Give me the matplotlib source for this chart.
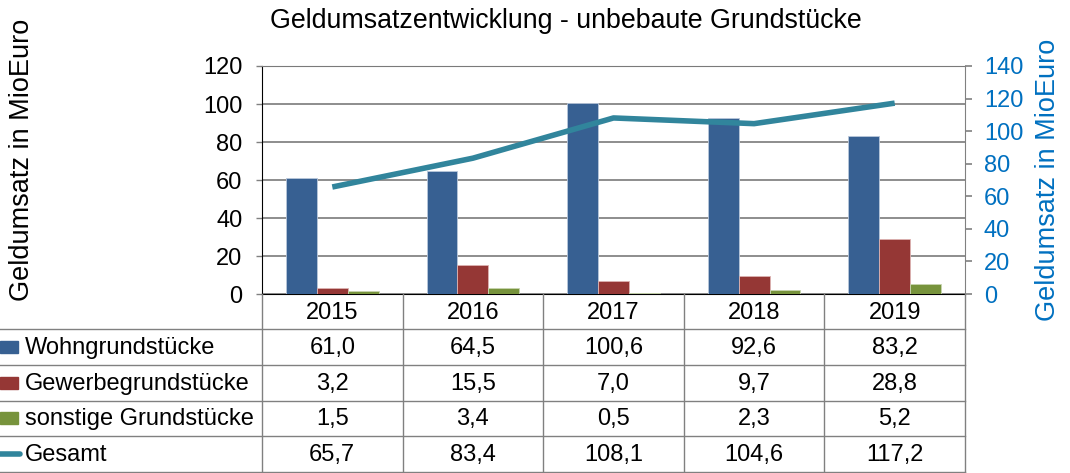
import matplotlib
matplotlib.use("Agg")
import matplotlib.pyplot as plt
import matplotlib.transforms as mtransforms
import numpy as np

plt.rcParams['font.family'] = ['Liberation Sans', 'DejaVu Sans']

years = ["2015", "2016", "2017", "2018", "2019"]
wohn = [61.0, 64.5, 100.6, 92.6, 83.2]
gewerbe = [3.2, 15.5, 7.0, 9.7, 28.8]
sonstige = [1.5, 3.4, 0.5, 2.3, 5.2]
gesamt = [65.7, 83.4, 108.1, 104.6, 117.2]
series_names = ["Wohngrundstücke", "Gewerbegrundstücke", "sonstige Grundstücke", "Gesamt"]

c_blue = "#376092"
c_red = "#953735"
c_green = "#77933C"
c_line = "#31859C"
c_axis2 = "#0070C0"

W, H = 1070, 473
fig = plt.figure(figsize=(W / 100, H / 100), dpi=100)

def fx(px):
    return px / W

def fy(py):
    return 1 - py / H

ax = fig.add_axes([fx(262), fy(294), fx(965) - fx(262), fy(66) - fy(294)])
ax2 = ax.twinx()

x = np.arange(len(years))
bw = 0.22
ax.bar(x - bw, wohn, bw, color=c_blue, edgecolor="#B9C7DA", linewidth=0.6, zorder=3)
ax.bar(x, gewerbe, bw, color=c_red, edgecolor="#DDB3B2", linewidth=0.6, zorder=3)
ax.bar(x + bw, sonstige, bw, color=c_green, edgecolor="#C8D5B0", linewidth=0.6, zorder=3)
ax2.plot(x, gesamt, color=c_line, lw=4, solid_capstyle="butt", zorder=4)

ax.set_xlim(-0.5, len(years) - 0.5)
ax.set_ylim(0, 120)
ax.set_yticks(np.arange(0, 121, 20))
ax2.set_ylim(0, 140)
ax2.set_yticks(np.arange(0, 141, 20))
ax.set_xticks([])
ax.grid(axis="y", color="#7A7A7A", lw=1.2, zorder=0)
ax.set_axisbelow(True)

ax.spines["top"].set_color("#7A7A7A")
ax.spines["left"].set_color("black")
ax.spines["bottom"].set_color("black")
ax.spines["right"].set_visible(False)
ax2.spines["left"].set_visible(False)
ax2.spines["bottom"].set_visible(False)
ax2.spines["top"].set_visible(False)
ax2.spines["right"].set_color("#808080")

ax.tick_params(axis="y", labelsize=17, labelcolor="black", color="#808080", length=4, width=1, direction="out", pad=10)
ax2.tick_params(axis="y", labelsize=17, labelcolor=c_axis2, color="#808080", length=5, width=1.2, pad=8.5)

fig.text(fx(22), fy(160), "Geldumsatz in MioEuro", rotation=90, ha="center", va="center", fontsize=19.5, color="black")
fig.text(fx(1048), fy(180), "Geldumsatz in MioEuro", rotation=90, ha="center", va="center", fontsize=19.5, color=c_axis2)
fig.text(fx(566), fy(21), "Geldumsatzentwicklung - unbebaute Grundstücke", ha="center", va="center", fontsize=19.3, color="black")

# Data table
rows_px = [294, 329, 365, 400.5, 436, 471.5]
trans = mtransforms.blended_transform_factory(ax.transData, fig.transFigure)
fig_line_kw = dict(color="#808080", lw=1.0, clip_on=False)

for ypx in rows_px[1:]:
    fig.add_artist(plt.Line2D([0, fx(965)], [fy(ypx), fy(ypx)], transform=fig.transFigure, **fig_line_kw))
for b in np.arange(-0.5, len(years) + 0.5, 1.0):
    fig.add_artist(plt.Line2D([b, b], [fy(rows_px[0]), fy(rows_px[-1])], transform=trans, **fig_line_kw))

for i, yr in enumerate(years):
    fig.text(x[i], fy((rows_px[0] + rows_px[1]) / 2 + 1), yr, transform=trans, ha="center", va="center", fontsize=17)

data_rows = [wohn, gewerbe, sonstige, gesamt]
key_colors = [c_blue, c_red, c_green]
for r, (name, vals) in enumerate(zip(series_names, data_rows)):
    ymid = (rows_px[r + 1] + rows_px[r + 2]) / 2
    for i, v in enumerate(vals):
        fig.text(x[i], fy(ymid + 1), f"{v:.1f}".replace(".", ","), transform=trans, ha="center", va="center", fontsize=17)
    fig.text(fx(25), fy(ymid + 1), name, ha="left", va="center", fontsize=17)
    if r < 3:
        fig.add_artist(plt.Rectangle((fx(0), fy(ymid + 6)), fx(18), fy(ymid - 6) - fy(ymid + 6),
                                     transform=fig.transFigure, color=key_colors[r]))
    else:
        fig.add_artist(plt.Line2D([fx(0), fx(20)], [fy(ymid), fy(ymid)], transform=fig.transFigure,
                                  color=c_line, lw=4, solid_capstyle="round"))

fig.savefig("out.png", dpi=100)
